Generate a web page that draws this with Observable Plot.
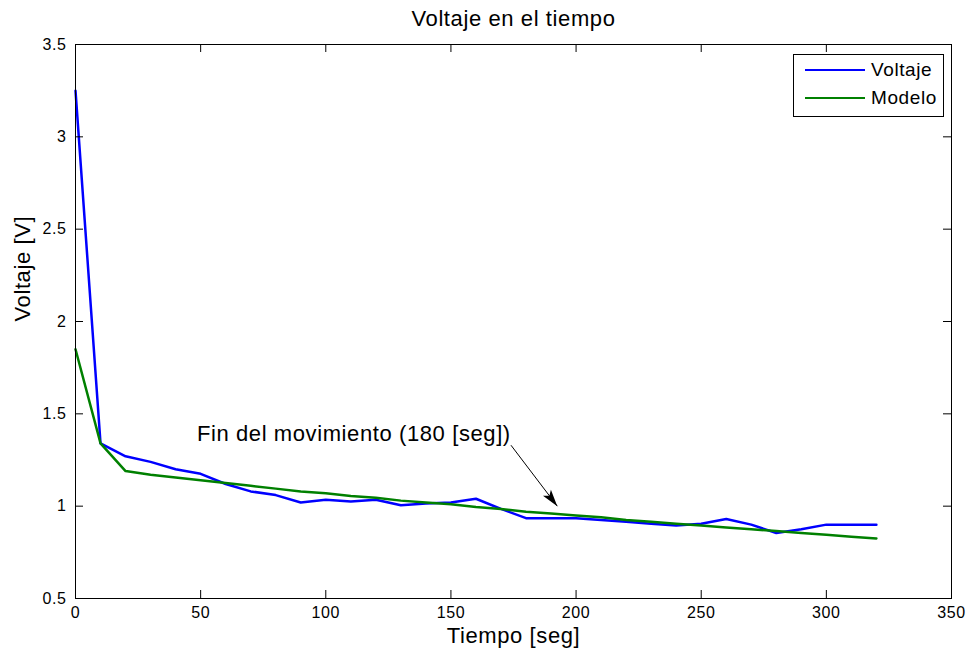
<!DOCTYPE html>
<html>
<head>
<meta charset="utf-8">
<script src="https://cdn.jsdelivr.net/npm/d3@7"></script>
<script src="https://cdn.jsdelivr.net/npm/@observablehq/plot@0.6"></script>
<style>
  body { margin: 0; background: #fff; }
  #wrap { position: relative; width: 967px; height: 658px; font-family: "Liberation Sans", Arial, sans-serif; }
  #legend { position: absolute; left: 793px; top: 54px; width: 151px; height: 63px; border: 1px solid #000; background: #fff; box-sizing: border-box; font-size: 19px; letter-spacing: 0.6px; color: #000; }
  .item { position: absolute; left: 0; height: 22px; display: flex; align-items: center; }
  .swatch { width: 60px; height: 0; border-top: 2.5px solid; margin-left: 11px; margin-right: 6px; }
</style>
</head>
<body>
<div id="wrap"></div>
<script>
// ---- data ----
const tiempo  = [0,10,20,30,40,50,60,70,80,90,100,110,120,130,140,150,160,170,180,190,200,210,220,230,240,250,260,270,280,290,300,310,320];
const voltaje = [3.25,1.34,1.27,1.24,1.20,1.175,1.12,1.08,1.06,1.02,1.035,1.025,1.035,1.005,1.015,1.02,1.04,0.985,0.935,0.935,0.935,0.925,0.915,0.905,0.895,0.905,0.93,0.90,0.855,0.875,0.90,0.90,0.90];
const modelo  = [1.85,1.34,1.19,1.17,1.155,1.14,1.125,1.11,1.095,1.08,1.07,1.055,1.045,1.03,1.02,1.01,0.995,0.985,0.97,0.96,0.95,0.94,0.925,0.915,0.905,0.895,0.885,0.875,0.865,0.855,0.845,0.835,0.825];
const seriesNames = ["Voltaje", "Modelo"];
const seriesColors = ["#0000ff", "#008000"];
const xTicks = [0,50,100,150,200,250,300,350];
const yTicks = [0.5,1,1.5,2,2.5,3,3.5];
const titleText = ["Voltaje en el tiempo"];
const xLabel = ["Tiempo [seg]"];
const yLabel = ["Voltaje [V]"];
const note = [{t: 48.5, v: 1.39, text: "Fin del movimiento (180 [seg])"}];
const noteArrow = [{t1: 174, v1: 1.33, t2: 192.5, v2: 1.0}];

const rowsV = tiempo.map((t, i) => ({t, v: voltaje[i]}));
const rowsM = tiempo.map((t, i) => ({t, v: modelo[i]}));

// layout
const W = 967, H = 658, mL = 75, mR = 16, mT = 44, mB = 60, tick = 8;
const frameW = W - mL - mR, frameH = H - mT - mB;

// MATLAB-style barbed, filled arrowhead (tip at origin, pointing up)
const arrowHead = {
  draw(context) {
    context.moveTo(0, 0);
    context.lineTo(-5, 17);
    context.lineTo(0, 13);
    context.lineTo(5, 17);
    context.closePath();
  }
};

const chart = Plot.plot({
  width: W,
  height: H,
  marginLeft: mL,
  marginRight: mR,
  marginTop: mT,
  marginBottom: mB,
  style: {fontFamily: '"Liberation Sans", Arial, sans-serif', fontSize: "16px", color: "#000", background: "#fff", overflow: "visible", letterSpacing: "0.6px"},
  x: {domain: [0, 350]},
  y: {domain: [0.5, 3.5]},
  marks: [
    Plot.line(rowsV, {x: "t", y: "v", stroke: seriesColors[0], strokeWidth: 2.5}),
    Plot.line(rowsM, {x: "t", y: "v", stroke: seriesColors[1], strokeWidth: 2.5}),
    // tick labels
    Plot.axisX({anchor: "bottom", ticks: xTicks, tickSize: 0, tickPadding: 8, tickFormat: d => String(d), label: null, fontSize: 16}),
    Plot.axisY({anchor: "left", ticks: yTicks, tickSize: 0, tickPadding: 9, tickFormat: d => String(d), label: null, fontSize: 16}),
    // inward tick marks on all four sides
    Plot.ruleX(xTicks, {x: d => d, insetTop: frameH - tick, stroke: "#000"}),
    Plot.ruleX(xTicks, {x: d => d, insetBottom: frameH - tick, stroke: "#000"}),
    Plot.ruleY(yTicks, {y: d => d, insetRight: frameW - tick, stroke: "#000"}),
    Plot.ruleY(yTicks, {y: d => d, insetLeft: frameW - tick, stroke: "#000"}),
    Plot.frame({stroke: "#000", strokeWidth: 1}),
    Plot.text(note, {x: "t", y: "v", text: "text", textAnchor: "start", fontSize: 22, fill: "#000"}),
    Plot.link(noteArrow, {x1: "t1", y1: "v1", x2: "t2", y2: "v2", stroke: "#000", strokeWidth: 1}),
    Plot.dot(noteArrow, {x: "t2", y: "v2", symbol: arrowHead, fill: "#000", stroke: "none", rotate: 142.5}),
    Plot.text(titleText, {frameAnchor: "top", text: d => d, dy: -26, lineAnchor: "middle", fontSize: 22, fill: "#000"}),
    Plot.text(xLabel, {frameAnchor: "bottom", text: d => d, dy: 37, lineAnchor: "middle", fontSize: 22, fill: "#000"}),
    Plot.text(yLabel, {frameAnchor: "left", text: d => d, dx: -53, rotate: -90, fontSize: 22, fill: "#000"})
  ]
});

const wrap = document.getElementById("wrap");
wrap.appendChild(chart);

const legend = document.createElement("div");
legend.id = "legend";
seriesNames.forEach((name, i) => {
  const item = document.createElement("div");
  item.className = "item";
  item.style.top = (4 + i * 28) + "px";
  const sw = document.createElement("span");
  sw.className = "swatch";
  sw.style.borderTopColor = seriesColors[i];
  const label = document.createElement("span");
  label.textContent = name;
  item.appendChild(sw);
  item.appendChild(label);
  legend.appendChild(item);
});
wrap.appendChild(legend);
</script>
</body>
</html>
